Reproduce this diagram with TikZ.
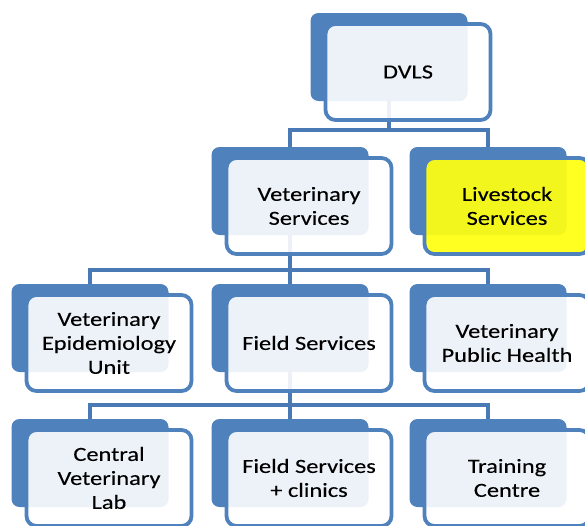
\documentclass[tikz,border=0pt]{standalone}
\usepackage{fontspec}
\setmainfont{Carlito}[FakeStretch=1.22,FakeBold=0.25]
\usetikzlibrary{calc}
\definecolor{ublue}{HTML}{4F81BD}
\definecolor{lblue}{HTML}{4A7AB5}
\definecolor{hiyel}{HTML}{FFFF10}
\begin{document}
\begin{tikzpicture}[x=1pt,y=-1pt,
  backbox/.style={fill=ublue, draw=none, rounded corners=8pt, minimum width=157pt, minimum height=88pt, inner sep=0pt},
  frontbox/.style={fill=white, fill opacity=0.9, text opacity=1, draw=ublue, draw opacity=1, line width=3.8pt, rounded corners=10pt, minimum width=165pt, minimum height=96pt, inner sep=0pt, align=center, font=\fontsize{20}{24}\selectfont, text=black},
  yelbox/.style={frontbox, fill=hiyel, fill opacity=0.93},
  conn/.style={draw=lblue, line width=4pt}]
\useasboundingbox (0,0) rectangle (585,525);
% back rectangles
\coordinate (dvlsP) at (389,57);
\coordinate (vsP) at (290,191);
\coordinate (lsP) at (488,191);
\coordinate (veuP) at (90,328);
\coordinate (fsP) at (290,328);
\coordinate (vphP) at (488,328);
\coordinate (clP) at (90,463);
\coordinate (fcP) at (290,463);
\coordinate (tcP) at (488,463);
\foreach \n in {dvls,vs,ls,veu,fs,vph,cl,fc,tc}{
  \node[backbox] (\n B) at (\n P) {};
}
% connectors
\coordinate (j1) at (389,130);
\coordinate (j2) at (290,270);
\coordinate (j3) at (290,405);
\draw[conn] (dvlsB.south) -- (j1);
\draw[conn] (j1) -| (vsB.north);
\draw[conn] (j1) -| (lsB.north);
\draw[conn] (vsB.south) -- (j2);
\draw[conn] (j2) -| (veuB.north);
\draw[conn] (j2) -- (fsB.north);
\draw[conn] (j2) -| (vphB.north);
\draw[conn] (fsB.south) -- (j3);
\draw[conn] (j3) -| (clB.north);
\draw[conn] (j3) -- (fcB.north);
\draw[conn] (j3) -| (tcB.north);
% front boxes
\node[frontbox] (dvls) at ($(dvlsB.center)+(19,15)$) {DVLS};
\node[frontbox] (vs) at ($(vsB.center)+(19,15)$) {Veterinary\\Services};
\node[yelbox] (ls) at ($(lsB.center)+(19,15)$) {Livestock\\Services};
\node[frontbox] (veu) at ($(veuB.center)+(19,15)$) {Veterinary\\Epidemiology\\Unit};
\node[frontbox] (fs) at ($(fsB.center)+(19,15)$) {Field Services};
\node[frontbox] (vph) at ($(vphB.center)+(19,15)$) {Veterinary\\Public Health};
\node[frontbox] (cl) at ($(clB.center)+(19,15)$) {Central\\Veterinary\\Lab};
\node[frontbox] (fc) at ($(fcB.center)+(19,15)$) {Field Services\\+ clinics};
\node[frontbox] (tc) at ($(tcB.center)+(19,15)$) {Training\\Centre};
\end{tikzpicture}
\end{document}
